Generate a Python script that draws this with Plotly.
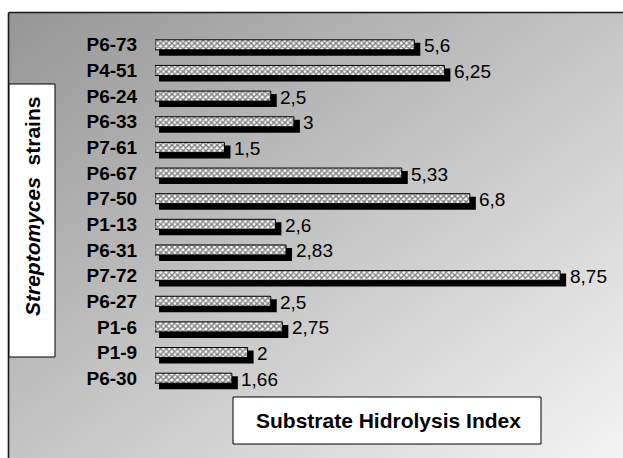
import base64
import plotly.graph_objects as go

# ---- data ----
strains = ["P6-73", "P4-51", "P6-24", "P6-33", "P7-61", "P6-67", "P7-50",
           "P1-13", "P6-31", "P7-72", "P6-27", "P1-6", "P1-9", "P6-30"]
hydrolysis_index = [5.6, 6.25, 2.5, 3, 1.5, 5.33, 6.8, 2.6, 2.83, 8.75, 2.5, 2.75, 2, 1.66]
value_labels = [f"{v:g}".replace(".", ",") for v in hydrolysis_index]

# ---- geometry helpers (page pixels) ----
W, H = 623, 458
L, R, T, B = 155, 0, 32, 67
PW, PH = W - L - R, H - T - B
PPX = 46.3                      # pixels per index unit
XMAX = PW / PPX
ppy = PH / len(strains)


def px_x(px):
    return (px - L) / PW


def px_y(py):
    return (H - B - py) / PH


# shadow geometry (styling offsets)
sh_dx0, sh_dx1 = 4 / PPX, 6 / PPX
shadow_len = [v + sh_dx1 - sh_dx0 for v in hydrolysis_index]

fig = go.Figure()
fig.add_trace(go.Bar(
    orientation="h", y=strains, x=shadow_len, base=sh_dx0,
    width=13 / ppy, offset=-5 / ppy + 3 / ppy,
    marker=dict(color="black", line=dict(width=0)),
    hoverinfo="skip", showlegend=False,
))
fig.add_trace(go.Bar(
    orientation="h", y=strains, x=hydrolysis_index,
    width=10 / ppy, offset=-5 / ppy,
    marker=dict(color="white", line=dict(color="black", width=1),
                pattern=dict(shape="x", fgcolor="black", bgcolor="white",
                             size=4, solidity=0.6)),
    showlegend=False,
))

for s, v, lab in zip(strains, hydrolysis_index, value_labels):
    fig.add_annotation(x=v + sh_dx1 + 1.5 / PPX, y=s, text=lab, showarrow=False,
                       xanchor="left", yanchor="middle", yshift=-1,
                       font=dict(family="Arial, Liberation Sans", size=19, color="black"))

# gradient background
fw, fh = 640, 470
svg = (f'<svg xmlns="http://www.w3.org/2000/svg" width="{fw}" height="{fh}" '
       f'viewBox="0 0 {fw} {fh}" preserveAspectRatio="none"><defs>'
       '<linearGradient id="g" x1="0" y1="0" x2="1" y2="1">'
       '<stop offset="0" stop-color="#969696"/>'
       '<stop offset="1" stop-color="#f8f8f8"/></linearGradient></defs>'
       f'<rect width="{fw}" height="{fh}" fill="url(#g)"/></svg>')
src = "data:image/svg+xml;base64," + base64.b64encode(svg.encode()).decode()
fig.add_layout_image(source=src, xref="paper", yref="paper",
                     x=px_x(9), y=px_y(13), sizex=fw / PW, sizey=fh / PH,
                     xanchor="left", yanchor="top", sizing="stretch", layer="below")

# frame: only top and left edges are visible
frame_line = dict(color="#1a1a1a", width=1.6)
fig.add_shape(type="line", xref="paper", yref="paper",
              x0=px_x(8.5), x1=px_x(700), y0=px_y(12.5), y1=px_y(12.5),
              line=frame_line, layer="above")
fig.add_shape(type="line", xref="paper", yref="paper",
              x0=px_x(8.5), x1=px_x(8.5), y0=px_y(12.5), y1=px_y(520),
              line=frame_line, layer="above")

# y title box
fig.add_shape(type="rect", xref="paper", yref="paper",
              x0=px_x(9), x1=px_x(55), y0=px_y(84), y1=px_y(357),
              line=dict(color="black", width=1), fillcolor="white", layer="above")
fig.add_annotation(xref="paper", yref="paper", x=px_x(32), y=px_y(207),
                   text="<b><i>Streptomyces</i>  strains</b>", textangle=-90,
                   showarrow=False, xanchor="center", yanchor="middle",
                   font=dict(family="Arial, Liberation Sans", size=21, color="black"))

# x title box
fig.add_shape(type="rect", xref="paper", yref="paper",
              x0=px_x(233), x1=px_x(541), y0=px_y(397), y1=px_y(444),
              line=dict(color="black", width=1), fillcolor="white", layer="above")
fig.add_annotation(xref="paper", yref="paper", x=px_x(388), y=px_y(420),
                   text="<b>Substrate Hidrolysis Index</b>",
                   showarrow=False, xanchor="center", yanchor="middle",
                   font=dict(family="Arial, Liberation Sans", size=21, color="black"))

fig.update_layout(
    width=W, height=H, margin=dict(l=L, r=R, t=T, b=B, pad=0),
    paper_bgcolor="white", plot_bgcolor="rgba(0,0,0,0)",
    barmode="overlay", showlegend=False,
    xaxis=dict(range=[0, XMAX], visible=False),
    yaxis=dict(type="category", categoryorder="array", categoryarray=strains,
               range=[len(strains) - 0.5, -0.5], showgrid=False, zeroline=False,
               showline=False, ticks="outside", ticklen=13,
               tickcolor="rgba(0,0,0,0)",
               tickfont=dict(family="Arial, Liberation Sans", size=19,
                             color="black", weight="bold")),
)

fig.write_html(
    "out.html",
    config={"displayModeBar": False},
    post_script="document.body.style.margin='0';document.body.style.overflow='hidden';",
)
